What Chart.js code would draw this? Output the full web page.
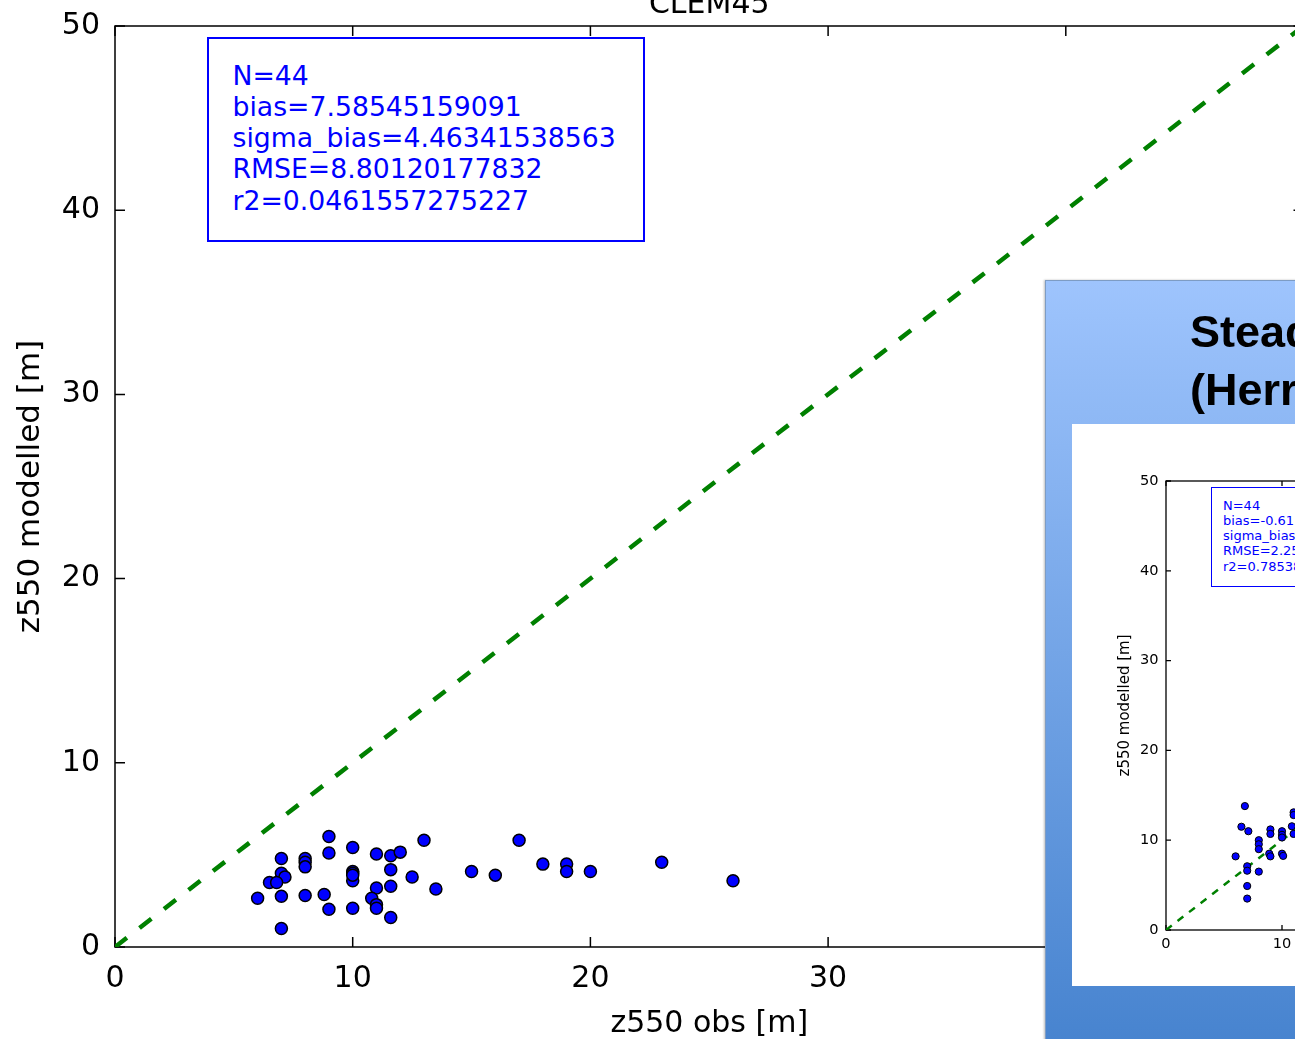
<!DOCTYPE html>
<html>
<head>
<meta charset="utf-8">
<script src="https://cdn.jsdelivr.net/npm/chart.js@4.4.0/dist/chart.umd.min.js"></script>
<style>
  html, body { margin: 0; padding: 0; background: #fff; }
  body { width: 1295px; height: 1039px; overflow: hidden; position: relative; font-family: "DejaVu Sans", sans-serif; }
  #mainChart { position: absolute; left: 0; top: -40px; }
  .statsBox { position: absolute; border: 2px solid #0000ff; box-sizing: border-box; background: #fff; }
  .statsText { position: absolute; color: #0000ff; white-space: pre; font-family: "DejaVu Sans", sans-serif; }
  #slide { position: absolute; left: 1045px; top: 280px; width: 300px; height: 780px;
    background: linear-gradient(to bottom, #9ec4fd 0%, #4582ce 100%);
    border-left: 1.5px solid #7d9cc4; border-top: 1.5px solid #7d9cc4; box-shadow: -1px 0 2px rgba(0,0,0,0.25); }
  #slideTitle { position: absolute; left: 1190px; top: 303px; font: bold 45px/58px "Liberation Sans", Arial, sans-serif; color: #000; white-space: pre; }
  #panel { position: absolute; left: 1072px; top: 424px; width: 300px; height: 562px; background: #fff; }
  #insetChart { position: absolute; left: 1072px; top: 424px; }
</style>
</head>
<body>
<canvas id="mainChart" width="1340" height="1100"></canvas>
<div class="statsBox" style="left:207px; top:37px; width:438px; height:205px;"></div>
<div class="statsText" id="mainStats" style="left:232.5px; top:59.7px; font-size:26.7px; line-height:31.2px;"></div>

<div id="slide"></div>
<div id="slideTitle"></div>
<div id="panel"></div>
<canvas id="insetChart" width="700" height="562"></canvas>
<div class="statsBox" style="left:1210.5px; top:486.5px; width:214px; height:100px; border-width:1.2px;"></div>
<div class="statsText" id="insetStats" style="left:1223px; top:497.8px; font-size:13px; line-height:15.2px;"></div>

<script>
// main scatter (CLEM45)
const obsX = [9, 7, 8, 8, 8, 9, 10, 11, 11.6, 12, 13, 17, 10, 10, 10, 11.6, 12.5, 15, 16, 18,
  19, 19, 20, 23, 26, 7, 7.15, 6.5, 6.8, 6, 7, 8, 8.8, 9, 10, 11, 11.6, 10.8, 11, 11,
  11.6, 13.5, 7, 10];
const modY = [6, 4.8, 4.8, 4.6, 4.35, 5.1, 5.4, 5.05, 4.95, 5.15, 5.8, 5.8, 4.1, 4.0, 3.6, 4.2, 3.8, 4.1, 3.9, 4.5,
  4.5, 4.1, 4.1, 4.6, 3.6, 4.0, 3.8, 3.5, 3.5, 2.65, 2.75, 2.8, 2.85, 2.05, 2.1, 3.2, 3.3, 2.65, 2.3, 2.1,
  1.6, 3.15, 1.0, 3.9];

// inset scatter (only the part that shows in the picture)
const insetObs = [6.8, 6.5, 7.1, 6, 7, 7, 8, 7, 7, 8, 8, 8, 9, 9, 8.9, 9, 10, 10, 10, 10, 10.1, 10.85, 11, 11, 11];
const insetMod = [13.8, 11.5, 11, 8.2, 7.1, 6.6, 6.5, 4.9, 3.5, 10, 9.55, 9, 11.2, 10.7, 8.5, 8.2, 11, 10.6, 10.3, 8.5, 8.25, 11.55, 13.1, 12.8, 10.7];

const oneToOne = [0, 50];
const axisRange = [0, 50];
const tickStep = 10;

const chartTitle = "CLEM45";
const xTitle = "z550 obs [m]";
const yTitle = "z550 modelled [m]";

const statNames = ["N", "bias", "sigma_bias", "RMSE", "r2"];
const mainStatValues = ["44", "7.58545159091", "4.46341538563", "8.80120177832", "0.0461557275227"];
const insetStatValues = ["44", "-0.615", "", "2.25", "0.78538"];
const slideTitleLines = ["Stead", "(Herr"];

document.getElementById("mainStats").textContent =
  statNames.map((n, i) => n + "=" + mainStatValues[i]).join("\n");
document.getElementById("insetStats").textContent =
  statNames.map((n, i) => n + "=" + insetStatValues[i]).join("\n");
document.getElementById("slideTitle").textContent = slideTitleLines.join("\n");

const toPoints = (xs, ys) => xs.map((x, i) => ({ x: x, y: ys[i] }));

// box round the axes with matplotlib style ticks pointing inwards
const frameTicks = {
  id: "frameTicks",
  beforeDatasetsDraw(chart, args, opts) {
    const { ctx, chartArea: a, scales } = chart;
    ctx.save();
    ctx.strokeStyle = opts.color;
    ctx.lineWidth = opts.width;
    ctx.strokeRect(a.left, a.top, a.right - a.left, a.bottom - a.top);
    ctx.beginPath();
    scales.x.ticks.forEach((t) => {
      const px = scales.x.getPixelForValue(t.value);
      ctx.moveTo(px, a.bottom);
      ctx.lineTo(px, a.bottom - opts.len);
      ctx.moveTo(px, a.top);
      ctx.lineTo(px, a.top + opts.len);
    });
    scales.y.ticks.forEach((t) => {
      const py = scales.y.getPixelForValue(t.value);
      ctx.moveTo(a.left, py);
      ctx.lineTo(a.left + opts.len, py);
      ctx.moveTo(a.right, py);
      ctx.lineTo(a.right - opts.len, py);
    });
    ctx.stroke();
    if (opts.title) {
      ctx.fillStyle = "#000";
      ctx.font = opts.titleFont;
      ctx.textAlign = "center";
      ctx.textBaseline = "alphabetic";
      ctx.fillText(opts.title, (a.left + a.right) / 2, a.top - opts.titleGap);
    }
    ctx.restore();
  },
};

function makeChart(id, cfg) {
  const font = (size) => ({ family: "DejaVu Sans", size: size });
  return new Chart(document.getElementById(id), {
    type: "scatter",
    data: {
      datasets: [
        {
          data: toPoints(cfg.xs, cfg.ys),
          backgroundColor: "#0000ff",
          borderColor: "#000000",
          borderWidth: cfg.pointBorder,
          pointRadius: cfg.pointRadius,
          order: 0,
        },
        {
          data: toPoints(oneToOne, oneToOne),
          showLine: true,
          borderColor: "#008000",
          borderWidth: cfg.lineWidth,
          borderDash: cfg.dash,
          pointRadius: 0,
          order: 1,
        },
      ],
    },
    options: {
      responsive: false,
      animation: false,
      events: [],
      layout: { padding: cfg.padding },
      plugins: {
        legend: { display: false },
        tooltip: { enabled: false },
        frameTicks: {
          color: "#000",
          width: cfg.frameWidth,
          len: cfg.tickLen,
          title: cfg.title,
          titleFont: cfg.titleSize + 'px "DejaVu Sans"',
          titleGap: cfg.titleGap,
        },
      },
      scales: {
        x: {
          type: "linear",
          min: axisRange[0],
          max: axisRange[1],
          grid: { display: false, drawTicks: false },
          border: { display: false },
          ticks: { stepSize: tickStep, color: "#000", font: font(cfg.tickSize), padding: cfg.xTickPad },
          title: cfg.xTitle
            ? { display: true, text: cfg.xTitle, color: "#000", font: font(cfg.titleSize), padding: { top: 0, bottom: cfg.xTitlePad } }
            : { display: false },
          afterFit: (s) => { s.height = cfg.xAxisHeight; },
        },
        y: {
          type: "linear",
          min: axisRange[0],
          max: axisRange[1],
          grid: { display: false, drawTicks: false },
          border: { display: false },
          ticks: { stepSize: tickStep, color: "#000", font: font(cfg.tickSize), padding: cfg.yTickPad },
          title: { display: true, text: yTitle, color: "#000", font: font(cfg.yTitleSize), padding: { top: cfg.yTitlePad, bottom: 0 } },
          afterFit: (s) => { s.width = cfg.yAxisWidth; },
        },
      },
    },
    plugins: [frameTicks],
  });
}

makeChart("mainChart", {
  xs: obsX, ys: modY,
  pointRadius: 6, pointBorder: 1.5,
  lineWidth: 4.5, dash: [15, 16],
  padding: { top: 66, right: 36.5, bottom: 0, left: 0 },
  frameWidth: 1.5, tickLen: 10,
  title: chartTitle, titleSize: 30, titleGap: 13.5,
  tickSize: 30, xTickPad: 14, yTickPad: 15,
  xTitle: xTitle, xTitlePad: 18.2, xAxisHeight: 113,
  yTitleSize: 31, yTitlePad: 12.5, yAxisWidth: 115,
});

makeChart("insetChart", {
  xs: insetObs, ys: insetMod,
  pointRadius: 3.6, pointBorder: 1,
  lineWidth: 2.5, dash: [7.3, 7.3],
  padding: { top: 57, right: 26, bottom: 0, left: 0 },
  frameWidth: 1.3, tickLen: 5,
  title: null, titleSize: 15, titleGap: 7,
  tickSize: 14.6, xTickPad: 5, yTickPad: 7.5,
  xTitle: null, xTitlePad: 0, xAxisHeight: 56,
  yTitleSize: 15, yTitlePad: 44.5, yAxisWidth: 94,
});
</script>
</body>
</html>
